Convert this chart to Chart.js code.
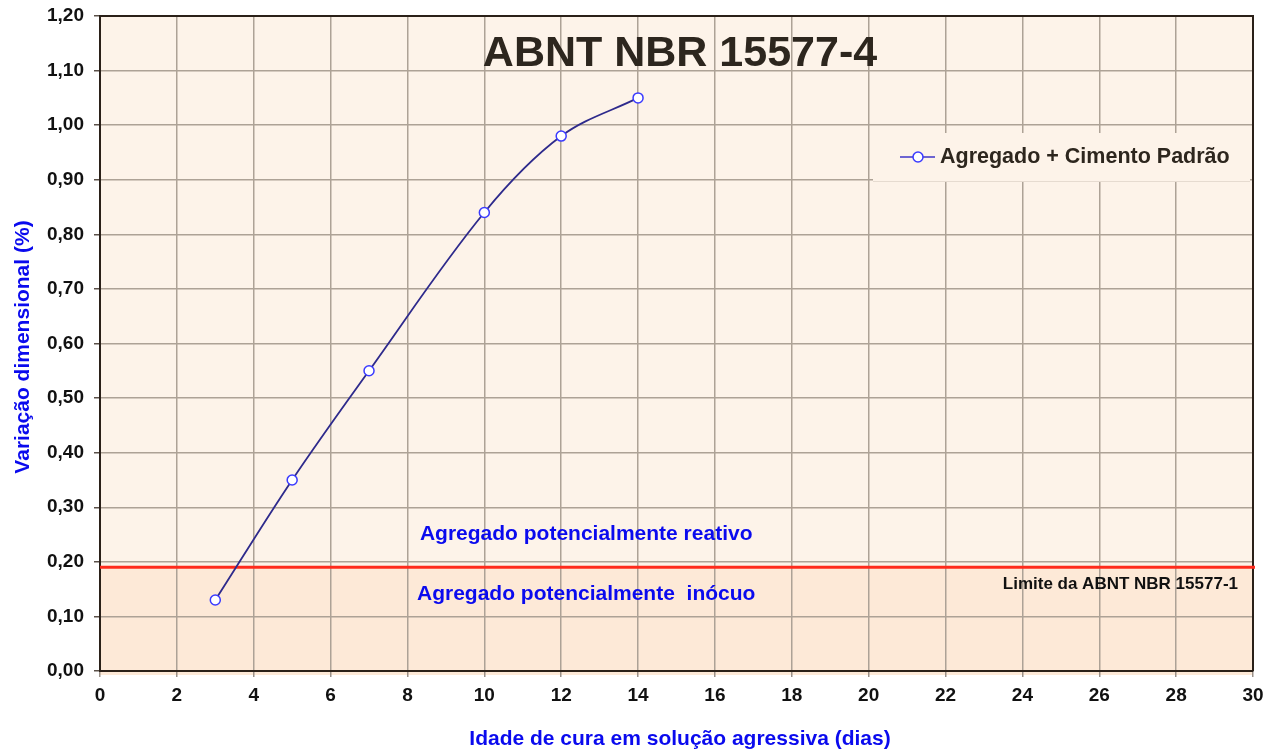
<!DOCTYPE html>
<html>
<head>
<meta charset="utf-8">
<script src="https://cdn.jsdelivr.net/npm/chart.js@4/dist/chart.umd.min.js"></script>
<style>
  html, body { margin: 0; padding: 0; background: #ffffff; }
  #wrap { width: 1279px; height: 752px; position: relative; }
</style>
</head>
<body>
<div id="wrap"><canvas id="c" width="1279" height="752"></canvas></div>
<script>
// ---- data ----
const days = [3, 5, 7, 10, 12, 14];
const variation = [0.13, 0.35, 0.55, 0.84, 0.98, 1.05];
const seriesLabel = 'Agregado + Cimento Padrão';
const limitValue = 0.19;
const chartTitle = 'ABNT NBR 15577-4';
const xTitle = 'Idade de cura em solução agressiva (dias)';
const yTitle = 'Variação dimensional (%)';
const zoneAbove = 'Agregado potencialmente reativo';
const zoneBelow = 'Agregado potencialmente  inócuo';
const limitLabel = 'Limite da ABNT NBR 15577-1';

const FONT = '"Liberation Sans", Arial, sans-serif';
const BG_UP = '#fdf3e9';
const BG_LOW = '#fde9d7';
const GRID = '#ada296';
const AXIS = '#2a2018';

const decor = {
  id: 'decor',
  beforeDraw(chart) {
    const { ctx, chartArea: a, scales: { y } } = chart;
    const yl = y.getPixelForValue(limitValue);
    ctx.save();
    ctx.fillStyle = BG_UP;
    ctx.fillRect(a.left, a.top, a.right - a.left, yl - a.top);
    ctx.fillStyle = BG_LOW;
    ctx.fillRect(a.left, yl, a.right - a.left, a.bottom - yl + 4);
    ctx.restore();
  },
  beforeDatasetsDraw(chart) {
    const { ctx, chartArea: a, scales: { x, y } } = chart;
    const yl = y.getPixelForValue(limitValue);
    ctx.save();
    // outer frame top/right
    ctx.strokeStyle = AXIS;
    ctx.lineWidth = 2;
    ctx.beginPath();
    ctx.moveTo(a.left, a.top);
    ctx.lineTo(a.right, a.top);
    ctx.lineTo(a.right, a.bottom);
    ctx.stroke();
    // red limit line
    ctx.strokeStyle = '#ff2b1c';
    ctx.lineWidth = 3;
    ctx.beginPath();
    ctx.moveTo(a.left, yl);
    ctx.lineTo(a.right + 2, yl);
    ctx.stroke();
    // zone labels
    ctx.fillStyle = '#0a0aee';
    ctx.font = 'bold 21px ' + FONT;
    ctx.textAlign = 'center';
    ctx.textBaseline = 'middle';
    const cx = x.getPixelForValue(12.65);
    ctx.fillText(zoneAbove, cx, y.getPixelForValue(0.25));
    ctx.fillText(zoneBelow, cx, y.getPixelForValue(0.14));
    // limit label
    ctx.fillStyle = '#111111';
    ctx.font = 'bold 17px ' + FONT;
    ctx.textAlign = 'right';
    ctx.fillText(limitLabel, a.right - 15, yl + 17);
    // title
    ctx.fillStyle = '#2d261e';
    ctx.font = 'bold 43px ' + FONT;
    ctx.textAlign = 'center';
    ctx.fillText(chartTitle, 680, 54);
    // axis titles
    ctx.fillStyle = '#0a0aee';
    ctx.font = 'bold 21px ' + FONT;
    ctx.fillText(xTitle, 680, 739);
    ctx.save();
    ctx.translate(23, 347);
    ctx.rotate(-Math.PI / 2);
    ctx.fillText(yTitle, 0, 0);
    ctx.restore();
    // legend box
    const lx = 873, ly = 133, lw = 377, lh = 48;
    ctx.fillStyle = BG_UP;
    ctx.fillRect(lx, ly, lw, lh);
    ctx.strokeStyle = '#e6dbd0';
    ctx.lineWidth = 1;
    ctx.beginPath();
    ctx.moveTo(lx, ly + lh + 0.5);
    ctx.lineTo(lx + lw, ly + lh + 0.5);
    ctx.stroke();
    const sy = 157;
    ctx.strokeStyle = '#3d35c8';
    ctx.lineWidth = 1.5;
    ctx.beginPath();
    ctx.moveTo(900, sy);
    ctx.lineTo(935, sy);
    ctx.stroke();
    ctx.beginPath();
    ctx.arc(918, sy, 5, 0, Math.PI * 2);
    ctx.fillStyle = '#ffffff';
    ctx.fill();
    ctx.strokeStyle = '#3a3aff';
    ctx.stroke();
    ctx.fillStyle = '#2d261e';
    ctx.font = 'bold 21.5px ' + FONT;
    ctx.textAlign = 'left';
    ctx.fillText(seriesLabel, 940, sy);
    ctx.restore();
  }
};

new Chart(document.getElementById('c'), {
  type: 'scatter',
  data: {
    datasets: [{
      label: seriesLabel,
      data: days.map((d, i) => ({ x: d, y: variation[i] })),
      showLine: true,
      borderColor: '#2e2a8c',
      borderWidth: 1.8,
      tension: 0.35,
      pointRadius: 5,
      pointBorderWidth: 1.5,
      pointBackgroundColor: '#ffffff',
      pointBorderColor: '#3a3aff'
    }]
  },
  options: {
    responsive: false,
    animation: false,
    layout: { padding: { top: 16, right: 26, left: 0, bottom: 0 }, autoPadding: false },
    plugins: { legend: { display: false }, tooltip: { enabled: false } },
    scales: {
      x: {
        type: 'linear',
        min: 0, max: 30,
        afterFit(s) { s.height = 81; s.paddingLeft = 0; s.paddingRight = 0; },
        ticks: { stepSize: 2, color: '#111111', font: { family: FONT, size: 19, weight: 'bold' }, padding: 7, maxRotation: 0 },
        grid: { color: GRID, lineWidth: 1.5, tickLength: 6, tickColor: '#9a9088' },
        border: { color: AXIS, width: 2 }
      },
      y: {
        min: 0, max: 1.2,
        afterFit(s) { s.width = 100; s.paddingTop = 0; s.paddingBottom = 0; },
        ticks: {
          stepSize: 0.1, color: '#111111', font: { family: FONT, size: 19, weight: 'bold' }, padding: 10,
          callback: v => v.toFixed(2).replace('.', ',')
        },
        grid: { color: GRID, lineWidth: 1.5, tickLength: 6, tickColor: '#5a5048' },
        border: { color: AXIS, width: 2 }
      }
    }
  },
  plugins: [decor]
});
</script>
</body>
</html>
